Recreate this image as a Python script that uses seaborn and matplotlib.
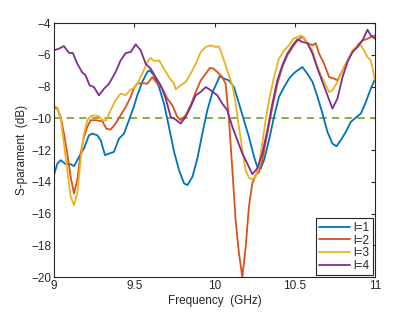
import numpy as np
import pandas as pd
import seaborn as sns
import matplotlib.pyplot as plt

# S-parameter traces (GHz, dB)
f1 = [9.000, 9.021, 9.042, 9.073, 9.104, 9.125, 9.156, 9.187, 9.218, 9.239, 9.270, 9.291, 9.318,
      9.343, 9.374, 9.405, 9.436, 9.467, 9.498, 9.519, 9.550, 9.581, 9.596, 9.623, 9.654, 9.685,
      9.716, 9.748, 9.779, 9.810, 9.831, 9.862, 9.893, 9.924, 9.955, 9.986, 10.007, 10.032, 10.059,
      10.090, 10.121, 10.152, 10.183, 10.214, 10.246, 10.266, 10.287, 10.308, 10.339, 10.370,
      10.401, 10.433, 10.464, 10.495, 10.516, 10.547, 10.578, 10.610, 10.641, 10.672, 10.703,
      10.734, 10.759, 10.786, 10.817, 10.848, 10.880, 10.911, 10.942, 10.973, 11.000]
s1 = [-13.58, -12.85, -12.64, -12.89, -12.89, -13.01, -12.43, -11.90, -11.07, -10.96, -11.07,
      -11.38, -12.32, -12.22, -12.11, -11.28, -10.96, -10.12, -9.24, -8.55, -7.71, -7.08, -6.98,
      -7.29, -8.03, -9.07, -10.54, -12.11, -13.27, -14.10, -14.21, -13.69, -12.53, -10.96, -9.49,
      -8.40, -7.92, -7.35, -7.50, -7.61, -8.03, -9.07, -10.12, -11.17, -12.43, -13.06, -13.16,
      -12.64, -11.38, -9.91, -8.65, -8.03, -7.50, -7.15, -6.98, -6.77, -7.19, -7.71, -8.65, -9.70,
      -10.86, -11.59, -11.76, -11.38, -10.86, -10.23, -9.95, -9.70, -8.97, -8.13, -7.50]

f2 = [9.000, 9.021, 9.042, 9.062, 9.083, 9.104, 9.125, 9.145, 9.166, 9.187, 9.208, 9.228, 9.260,
      9.301, 9.326, 9.353, 9.384, 9.415, 9.447, 9.478, 9.498, 9.519, 9.550, 9.581, 9.613, 9.644,
      9.675, 9.706, 9.737, 9.768, 9.789, 9.820, 9.851, 9.883, 9.914, 9.945, 9.970, 9.990, 10.017,
      10.048, 10.069, 10.090, 10.111, 10.131, 10.152, 10.173, 10.194, 10.214, 10.235, 10.256,
      10.277, 10.297, 10.329, 10.360, 10.391, 10.422, 10.453, 10.490, 10.516, 10.547, 10.578,
      10.610, 10.630, 10.651, 10.682, 10.713, 10.745, 10.765, 10.797, 10.828, 10.859, 10.890,
      10.921, 10.952, 10.983, 11.000]
s2 = [-9.32, -9.39, -9.91, -10.96, -12.22, -13.69, -14.73, -13.90, -12.22, -11.17, -10.54,
      -10.12, -10.12, -10.18, -10.65, -10.71, -10.33, -9.81, -9.28, -8.65, -8.08, -7.82, -7.78,
      -7.82, -7.40, -7.82, -8.13, -8.76, -9.18, -9.91, -10.12, -9.81, -9.18, -8.34, -7.61, -7.19,
      -6.83, -6.85, -7.08, -7.40, -7.82, -10.12, -13.27, -16.41, -18.51, -20.00, -18.09, -15.57,
      -14.10, -13.58, -13.37, -12.64, -10.96, -9.28, -7.82, -6.77, -6.03, -5.45, -5.09, -4.84,
      -5.26, -5.40, -5.26, -5.93, -6.56, -7.40, -7.50, -7.61, -6.98, -6.35, -5.82, -5.40, -5.09,
      -4.99, -4.84, -4.78]

f3 = [9.000, 9.021, 9.042, 9.062, 9.083, 9.104, 9.125, 9.145, 9.166, 9.187, 9.208, 9.228, 9.249,
      9.280, 9.301, 9.326, 9.353, 9.384, 9.415, 9.447, 9.472, 9.498, 9.519, 9.550, 9.581, 9.602,
      9.623, 9.654, 9.685, 9.716, 9.748, 9.758, 9.789, 9.820, 9.851, 9.883, 9.914, 9.945, 9.976,
      10.007, 10.028, 10.048, 10.079, 10.111, 10.131, 10.152, 10.173, 10.194, 10.214, 10.235,
      10.256, 10.277, 10.297, 10.318, 10.339, 10.370, 10.401, 10.433, 10.464, 10.490, 10.516,
      10.537, 10.558, 10.578, 10.610, 10.630, 10.662, 10.693, 10.713, 10.734, 10.765, 10.797,
      10.828, 10.859, 10.890, 10.911, 10.931, 10.952, 10.973, 11.000]
s3 = [-9.24, -9.32, -10.02, -11.59, -13.27, -14.94, -15.47, -14.73, -12.64, -10.96, -10.12,
      -9.87, -9.81, -9.87, -10.12, -10.12, -9.49, -8.86, -8.44, -8.55, -8.23, -8.08, -7.82, -7.19,
      -6.45, -6.20, -6.39, -6.35, -6.87, -7.40, -7.82, -8.17, -7.92, -7.71, -7.19, -6.56, -5.82,
      -5.51, -5.40, -5.51, -5.47, -6.03, -6.98, -7.92, -9.07, -10.54, -12.01, -13.27, -13.73,
      -13.85, -13.69, -12.85, -11.59, -10.12, -8.86, -7.40, -6.24, -5.72, -5.40, -4.99, -4.88,
      -4.78, -4.92, -5.30, -5.72, -6.45, -7.29, -7.92, -8.34, -8.23, -7.71, -6.98, -6.35, -5.72,
      -5.40, -5.40, -5.72, -6.14, -6.35, -7.61]

f4 = [9.000, 9.031, 9.062, 9.093, 9.118, 9.145, 9.177, 9.197, 9.222, 9.249, 9.280, 9.312, 9.343,
      9.384, 9.415, 9.447, 9.478, 9.509, 9.540, 9.571, 9.602, 9.633, 9.665, 9.696, 9.727, 9.758,
      9.789, 9.820, 9.851, 9.883, 9.914, 9.945, 9.976, 10.017, 10.048, 10.079, 10.111, 10.142,
      10.173, 10.204, 10.235, 10.266, 10.297, 10.329, 10.360, 10.391, 10.422, 10.453, 10.490,
      10.516, 10.547, 10.578, 10.610, 10.641, 10.672, 10.703, 10.734, 10.765, 10.797, 10.828,
      10.859, 10.890, 10.921, 10.952, 10.973, 11.000]
s4 = [-5.72, -5.61, -5.45, -5.87, -5.89, -6.56, -7.12, -7.29, -7.92, -8.03, -8.55, -8.13, -7.82,
      -7.08, -6.35, -5.89, -5.82, -5.34, -5.72, -6.56, -6.87, -7.40, -7.92, -8.76, -9.91, -10.08,
      -10.33, -9.91, -9.28, -8.55, -8.34, -8.03, -8.23, -8.55, -9.07, -9.49, -10.54, -11.38,
      -12.22, -12.85, -13.52, -13.16, -12.22, -10.75, -9.07, -7.61, -6.66, -5.93, -5.35, -5.03,
      -5.19, -5.26, -5.93, -6.87, -7.71, -8.55, -9.39, -8.76, -7.40, -6.45, -5.82, -5.51, -5.09,
      -4.42, -4.78, -4.99]

labels = ["l=1", "l=2", "l=3", "l=4"]
threshold = -10

frames = []
for lab, f, s in zip(labels, [f1, f2, f3, f4], [s1, s2, s3, s4]):
    frames.append(pd.DataFrame({"freq": f, "S": s, "case": lab}))
df = pd.concat(frames, ignore_index=True)

colors = ["#0072BD", "#D95319", "#EDB120", "#7E2F8E"]

sns.set_style("white")
plt.rcParams['font.family'] = ['Liberation Sans', 'DejaVu Sans']

fig = plt.figure(figsize=(4.15, 3.12), dpi=100)
ax = fig.add_axes([0.130, 0.112, 0.774, 0.814])

sns.lineplot(data=df, x="freq", y="S", hue="case", palette=colors, estimator=None,
             sort=False, linewidth=1.3, ax=ax)
ax.axhline(threshold, color="#77AC30", linestyle=(0, (4, 3)), linewidth=1.3, zorder=1)

ax.set_xlim(9, 11)
ax.set_ylim(-20, -4)
ax.set_xticks([9, 9.5, 10, 10.5, 11])
ax.set_xticklabels(["9", "9.5", "10", "10.5", "11"])
ax.set_yticks(np.arange(-20, -3, 2))
ax.tick_params(direction="in", length=3, width=0.8, labelsize=8.5, colors="#262626",
               top=True, right=True, pad=2)
for sp in ax.spines.values():
    sp.set_color("#262626")
    sp.set_linewidth(0.8)
ax.set_xlabel("Frequency  (GHz)", fontsize=8.5, labelpad=2)
ax.set_ylabel("S-parament  (dB)", fontsize=8.5, labelpad=2)

leg = ax.legend(loc="lower right", fontsize=8.5, frameon=True, fancybox=False,
                edgecolor="#262626", framealpha=1, borderaxespad=0.15, handlelength=2.6,
                labelspacing=0.05, borderpad=0.3, handletextpad=0.3)
leg.get_frame().set_linewidth(0.8)

fig.savefig("out.png", dpi=100)
